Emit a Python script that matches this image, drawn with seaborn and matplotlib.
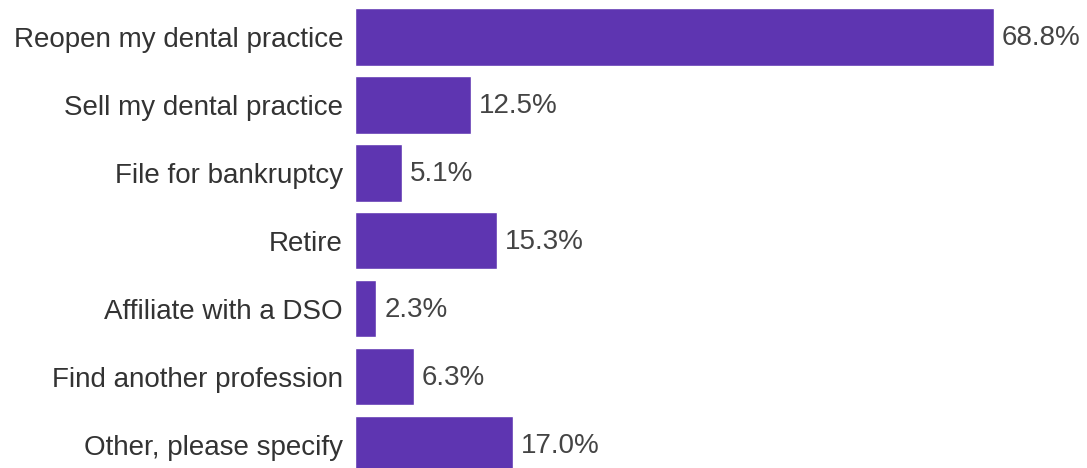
import matplotlib
matplotlib.use("Agg")
import matplotlib.pyplot as plt
import seaborn as sns
import pandas as pd

categories = ["Reopen my dental practice", "Sell my dental practice", "File for bankruptcy",
              "Retire", "Affiliate with a DSO", "Find another profession", "Other, please specify"]
values = [68.8, 12.5, 5.1, 15.3, 2.3, 6.3, 17.0]
labels = ["68.8%", "12.5%", "5.1%", "15.3%", "2.3%", "6.3%", "17.0%"]

sns.set_theme(style="white")
plt.rcParams['font.family'] = ['Liberation Sans', 'DejaVu Sans']

df = pd.DataFrame({"cat": categories, "val": values})
fig = plt.figure(figsize=(10.87, 4.68), dpi=100)
ax = fig.add_axes([355/1087, 0, 1 - 355/1087, 1])
sns.barplot(data=df, x="val", y="cat", color="#5E35B1", saturation=1, width=0.84, ax=ax)
ax.set_xlim(0, 732/9.29)
ax.set_ylim(6.34, -0.544)
for p, lab in zip(ax.patches, labels):
    ax.text(p.get_width() + 0.85, p.get_y() + p.get_height()/2 + 0.02, lab,
            va="center", ha="left", fontsize=20, color="#444444")
ax.set_xlabel("")
ax.set_ylabel("")
ax.set_xticks([])
ax.tick_params(axis="y", length=0, pad=8.6, labelsize=20, labelcolor="#333333")
for s in ax.spines.values():
    s.set_visible(False)
fig.savefig("out.png", dpi=100)
